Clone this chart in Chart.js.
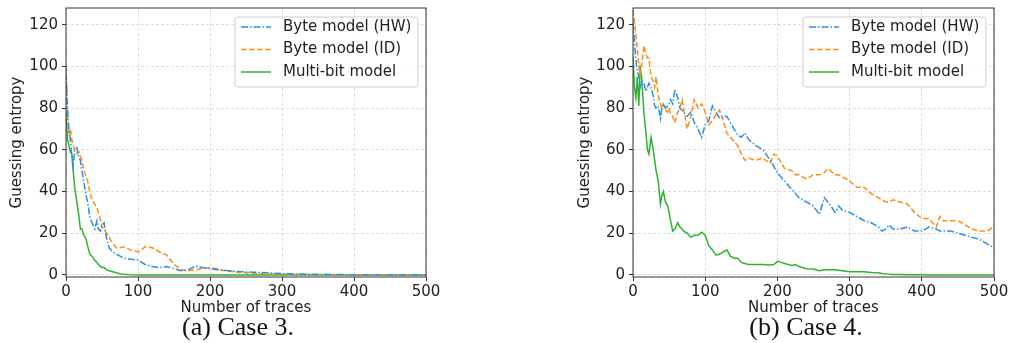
<!DOCTYPE html>
<html>
<head>
<meta charset="utf-8">
<script src="https://cdn.jsdelivr.net/npm/chart.js@4"></script>
<style>
  body { margin: 0; background: #fff; width: 1010px; height: 343px; position: relative; overflow: hidden; }
  canvas { display: block; }
  .box { position: absolute; top: 0; }
  .cap { position: absolute; top: 314px; line-height: 25px; font-family: 'Liberation Serif', serif; font-size: 26px; color: #111; transform: translateX(-50%); white-space: nowrap; }
</style>
</head>
<body>
<div class="box" style="left:0"><canvas id="case3" width="440" height="320"></canvas></div>
<div class="box" style="left:560px"><canvas id="case4" width="450" height="320"></canvas></div>
<div class="cap" style="left:238px">(a) Case 3.</div>
<div class="cap" style="left:806px">(b) Case 4.</div>
<script>
// tick labels
const xTicks = [0, 100, 200, 300, 400, 500];
const yTicks = [0, 20, 40, 60, 80, 100, 120];
const seriesNames = ['Byte model (HW)', 'Byte model (ID)', 'Multi-bit model'];

// (a) Case 3
const case3Traces = [0, 2, 4, 6, 8, 10, 12, 15, 18, 20, 22, 25, 28, 30, 33, 36, 40, 43, 45, 48, 50, 53, 56, 60, 65, 70, 75, 80, 90, 100, 110, 120, 130, 140, 150, 160, 170, 180, 190, 200, 210, 220, 240, 260, 280, 300, 350, 400, 450, 500];
const case3HW = [97, 80, 70, 65, 58, 52, 60, 61, 56, 55, 50, 44, 38, 35, 28, 25, 22, 26, 22, 21, 24, 25, 18, 13, 11, 10, 9, 8, 7.5, 7, 5, 4, 3.5, 4, 3, 2, 2.5, 4.2, 3.5, 3, 2.5, 2.2, 1.6, 1.3, 1, 0.6, 0.3, 0.1, 0, 0];
const case3ID = [100, 75, 68, 70, 65, 62, 60, 58, 59, 57, 55, 50, 47, 45, 40, 36, 34, 32, 30, 26, 23, 22, 20, 18, 15, 13, 13, 13.5, 12, 11, 13.5, 13, 11, 9.5, 5, 2.5, 2, 2.5, 3, 3.5, 3, 2, 1.2, 0.8, 0.5, 0.3, 0.1, 0, 0, 0];
const case3MB = [78, 65, 62, 59, 58, 50, 42, 35, 28, 22, 22, 19, 17, 14, 10, 9, 7, 6, 5, 4, 3.5, 3.5, 2.5, 2, 1.5, 1, 0.6, 0.3, 0.1, 0, 0, 0, 0, 0, 0, 0, 0, 0, 0, 0, 0, 0, 0, 0, 0, 0, 0, 0, 0, 0];

// (b) Case 4
const case4Traces = [0, 2, 4, 6, 8, 10, 12, 15, 18, 20, 22, 25, 28, 30, 32, 35, 38, 40, 42, 45, 48, 50, 52, 55, 58, 62, 65, 68, 70, 75, 80, 85, 90, 95, 100, 105, 110, 115, 120, 125, 130, 135, 140, 145, 150, 155, 160, 170, 180, 190, 195, 200, 205, 210, 220, 225, 230, 240, 250, 258, 265, 270, 280, 285, 290, 300, 310, 320, 330, 340, 345, 350, 355, 360, 370, 380, 390, 400, 410, 420, 425, 430, 440, 450, 460, 470, 480, 490, 495, 500];
const case4HW = [121, 112, 103, 98, 95, 90, 93, 92, 88, 90, 92, 90, 86, 81, 80, 81, 75, 80, 82, 80, 81, 82, 84, 82, 89, 85, 80, 79, 78, 76, 78, 73, 70, 66, 72, 74, 81, 78, 75, 76, 76, 73, 70, 67, 66, 68, 65, 62, 60, 55, 52, 49, 47, 45, 41, 39, 37, 35, 33, 29, 37, 35, 30, 33, 31, 30, 28, 26, 25, 23, 21, 22, 24, 22, 22, 23, 21, 21, 23, 22, 21, 21, 21, 20, 19, 18, 17, 15, 14, 13];
const case4ID = [127, 122, 115, 108, 100, 96, 100, 110, 106, 104, 104, 95, 93, 90, 95, 86, 82, 80, 82, 79, 78, 80, 77, 76, 73, 78, 80, 84, 80, 70, 76, 84, 80, 82, 78, 72, 74, 77, 79, 74, 68, 66, 64, 62, 58, 55, 56, 55, 56, 53.5, 58, 57, 54, 51, 50, 48, 48, 46, 48, 48, 49, 51, 48, 48, 47, 45, 42, 42, 39, 37, 36, 35, 35, 36, 35, 34, 30, 27, 27, 23, 28, 26, 26, 26, 24, 22, 21, 21, 22, 24];
const case4MB = [105, 90, 85, 95, 81, 99, 95, 78, 68, 60, 58, 66, 60, 55, 50, 45, 34, 38, 40, 35, 33, 30, 26, 21, 22, 25, 23, 22, 21, 20, 18, 19, 19, 20.5, 19, 14, 12, 9.5, 10, 11, 12, 9, 8, 8, 6, 5.5, 5, 5, 5, 4.8, 5, 6.5, 6, 5.5, 4.5, 5, 4, 3, 2.8, 2, 2.5, 2.5, 2.5, 2.2, 2, 1.5, 1.5, 1.5, 1.2, 1, 0.7, 0.5, 0.3, 0.2, 0.2, 0.1, 0.1, 0.1, 0, 0, 0, 0, 0, 0, 0, 0, 0, 0, 0, 0];

const colors = ['#2b8fe3', '#ff8c14', '#2fb22f'];
const dashes = [[7, 2, 1.5, 2], [5.5, 2.5], []];

Chart.defaults.font.family = 'DejaVu Sans';
Chart.defaults.font.size = 15;
Chart.defaults.color = '#222';

// box around the plot area
const framePlugin = {
    id: 'frame',
    afterDatasetsDraw(chart) {
        const {ctx, chartArea: a} = chart;
        ctx.save();
        ctx.strokeStyle = '#333';
        ctx.lineWidth = 1;
        ctx.strokeRect(a.left, a.top, a.right - a.left, a.bottom - a.top);
        ctx.restore();
    }
};

// matplotlib-like legend in the upper right corner
const legendBoxPlugin = {
    id: 'legendBox',
    afterDraw(chart) {
        const {ctx, chartArea: a} = chart;
        const w = 183, h = 70;
        const x0 = a.right - 8 - w, y0 = a.top + 9;
        ctx.save();
        ctx.beginPath();
        ctx.roundRect(x0, y0, w, h, 3);
        ctx.fillStyle = 'rgba(255,255,255,0.85)';
        ctx.fill();
        ctx.strokeStyle = '#cccccc';
        ctx.lineWidth = 1;
        ctx.stroke();
        chart.data.datasets.forEach((ds, i) => {
            const y = y0 + 10 + i * 22.5;
            ctx.beginPath();
            ctx.setLineDash(ds.borderDash);
            ctx.strokeStyle = ds.borderColor;
            ctx.lineWidth = ds.borderWidth;
            ctx.moveTo(x0 + 6, y);
            ctx.lineTo(x0 + 36, y);
            ctx.stroke();
            ctx.setLineDash([]);
            ctx.fillStyle = '#222';
            ctx.font = '15px "DejaVu Sans"';
            ctx.textBaseline = 'middle';
            ctx.fillText(ds.label, x0 + 48, y);
        });
        ctx.restore();
    }
};

function makeChart(id, traces, seriesList, yWidth, yTitlePad, padRight) {
    const datasets = seriesList.map((vals, i) => ({
        label: seriesNames[i],
        data: traces.map((t, j) => ({x: t, y: vals[j]})),
        borderColor: colors[i],
        borderWidth: 1.5,
        borderDash: dashes[i],
        pointRadius: 0,
        tension: 0,
        fill: false
    }));
    const gridOpts = {
        color: '#d4d4d4',
        lineWidth: 0.8,
        tickLength: 4,
        tickColor: '#333',
        tickWidth: 1,
        tickBorderDash: []
    };
    new Chart(document.getElementById(id), {
        type: 'line',
        data: {datasets},
        options: {
            responsive: false,
            animation: false,
            layout: {padding: {top: 8, right: padRight, bottom: 0, left: 0}},
            scales: {
                x: {
                    type: 'linear',
                    min: 0,
                    max: 500,
                    afterBuildTicks: s => { s.ticks = xTicks.map(v => ({value: v})); },
                    afterFit: s => { s.height = 43; s.paddingLeft = 0; s.paddingRight = 0; },
                    grid: gridOpts,
                    border: {display: false, dash: [3, 2]},
                    ticks: {padding: 2, color: '#222'},
                    title: {display: true, text: 'Number of traces', padding: {top: 0, bottom: 3}, color: '#222'}
                },
                y: {
                    type: 'linear',
                    min: -1,
                    max: 128,
                    afterBuildTicks: s => { s.ticks = yTicks.map(v => ({value: v})); },
                    afterFit: s => { s.width = yWidth; s.paddingTop = 0; s.paddingBottom = 0; },
                    grid: gridOpts,
                    border: {display: false, dash: [3, 2]},
                    ticks: {padding: 4, color: '#222'},
                    title: {display: true, text: 'Guessing entropy', padding: {top: yTitlePad, bottom: 0}, color: '#222'}
                }
            },
            plugins: {
                legend: {display: false},
                tooltip: {enabled: false}
            }
        },
        plugins: [framePlugin, legendBoxPlugin]
    });
}

document.addEventListener('DOMContentLoaded', () => {
    makeChart('case3', case3Traces, [case3HW, case3ID, case3MB], 66, 8, 14);
    makeChart('case4', case4Traces, [case4HW, case4ID, case4MB], 73, 16, 16);
});
</script>
</body>
</html>
